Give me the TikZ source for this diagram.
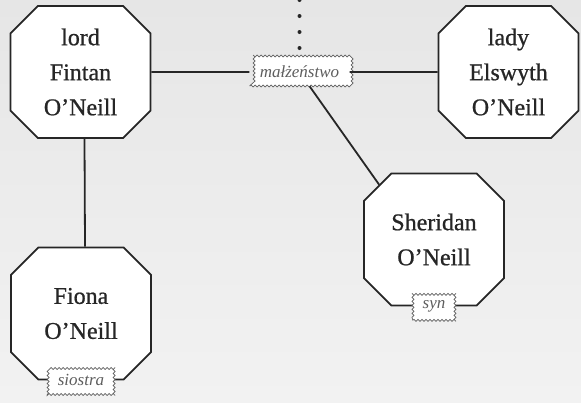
\documentclass[tikz,border=0pt]{standalone}
\usepackage{fontspec}
\setmainfont{Liberation Serif}
\newfontfamily\famfont{Liberation Serif}[Ligatures=TeX, FakeBold=0.8]
\usetikzlibrary{shapes.misc,decorations.pathmorphing}
\definecolor{famInk}{HTML}{262626}
\definecolor{famMuted}{HTML}{5E5E5E}
\definecolor{famBackTop}{HTML}{E6E6E6}
\definecolor{famBackBot}{HTML}{F2F2F2}
\tikzset{
  fambox/.style={chamfered rectangle, chamfered rectangle xsep=13.7pt, chamfered rectangle ysep=13.7pt,
                 draw=famInk, line width=1.8pt, fill=white, minimum width=140pt, minimum height=132pt,
                 inner sep=0pt, align=center, font=\famfont\fontsize{24}{35}\selectfont, text=famInk},
  famtag/.style={draw=famMuted, fill=white, line width=0.7pt, decorate,
                 decoration={snake, segment length=4pt, amplitude=1pt},
                 font=\fontsize{17}{20}\selectfont\itshape, text=famMuted,
                 inner xsep=10pt, minimum height=28pt},
  famline/.style={draw=famInk, line width=1.8pt},
}
\begin{document}
\begin{tikzpicture}[x=1pt,y=-1pt]
    \fill[top color=famBackTop, bottom color=famBackBot] (0,0) rectangle (581,402);
    \useasboundingbox (0,0) rectangle (581,402);
    % persons
    \node[fambox] (fintan) at (80.5,72) {lord\\Fintan\\O'Neill};
    \node[fambox] (elswyth) at (508.5,72) {lady\\Elswyth\\O'Neill};
    \node[fambox] (sheridan) at (434,239.5) {Sheridan\\O'Neill};
    \node[fambox] (fiona) at (81,313.5) {Fiona\\O'Neill};
    % relations
    \node[famtag] (marr) at (299.5,72) {małżeństwo};
    \coordinate (up) at (299.5,0);
    \draw[famline] (fintan) -- (marr);
    \draw[famline] (marr) -- (elswyth);
    \draw[famline] (marr) -- (sheridan.135);
    \draw[famline] ([xshift=4pt]fintan.south) -- ([xshift=4pt]fiona.north);
    \draw[famInk, line width=4pt, line cap=round, dash pattern=on 0pt off 16pt] (up) -- (marr.north);
    \node[famtag] (syn) at (sheridan.south) {syn};
    \node[famtag] (siostra) at (fiona.south) {siostra};
\end{tikzpicture}
\end{document}
